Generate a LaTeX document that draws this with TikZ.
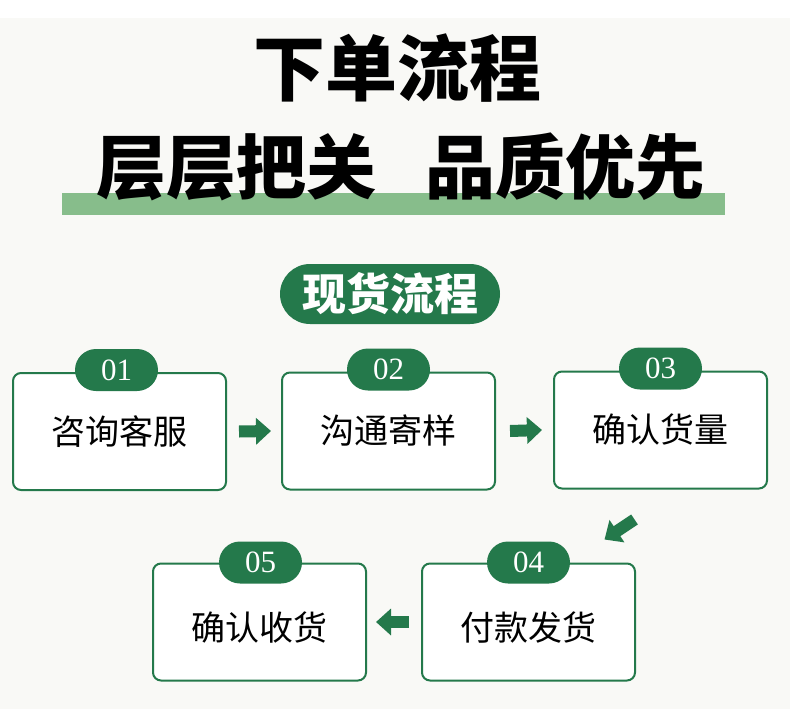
\documentclass[tikz,border=0pt]{standalone}
\usepackage{fontspec}
\setmainfont{Liberation Serif}
\newfontfamily\cjk{Noto Sans CJK SC}
\usetikzlibrary{arrows.meta,calc}

\definecolor{bgpaper}{HTML}{F9F9F6}
\definecolor{darkgreen}{HTML}{24794B}
\definecolor{lightgreen}{HTML}{87BD8B}

\tikzset{
  stepbox/.style={draw=darkgreen, line width=2pt, fill=white, rounded corners=8pt,
                  minimum width=213pt, minimum height=117pt,
                  font=\cjk\fontsize{34}{40}\selectfont},
  numpill/.style={fill=darkgreen, text=white, rounded corners=21pt, inner sep=0pt,
                  minimum width=83pt, minimum height=42pt,
                  font=\fontsize{31}{34}\selectfont},
  flowarrow/.style={darkgreen, line width=12pt, -{Triangle[length=15pt,width=26pt]}},
}
\newcommand\lowtext[1]{\raisebox{-6pt}[\height][\depth]{#1}}

\begin{document}
\begin{tikzpicture}[x=1pt,y=-1pt]
% page
\fill[bgpaper] (0,0) rectangle (790,709);
\fill[white] (0,0) rectangle (790,18);

% heading
\node[font=\cjk\bfseries\fontsize{72}{80}\selectfont] (title) at (397,68) {下单流程};
\node[fill=lightgreen, inner sep=0pt, minimum width=663pt, minimum height=22pt] (bar) at (393.5,204) {};
\node[font=\cjk\bfseries\fontsize{70}{80}\selectfont] (slogan) at (401,167) {层层把关\hspace{0.7em}品质优先};
\node[fill=darkgreen, text=white, rounded corners=30pt, minimum width=220pt, minimum height=60pt,
      font=\cjk\bfseries\fontsize{44}{50}\selectfont] (head) at (390,294) {现货流程};

% steps
\node[stepbox] (s1) at (119.5,431.5) {咨询客服};
\node[stepbox] (s2) at (388.5,431) {沟通寄样};
\node[stepbox] (s3) at (660.5,430) {确认货量};
\node[stepbox] (s4) at (528.5,622) {\lowtext{付款发货}};
\node[stepbox] (s5) at (259.5,622) {\lowtext{确认收货}};

\node[numpill] (n1) at ([xshift=-3pt,yshift=2pt]s1.north) {01};
\node[numpill] (n2) at ([yshift=2pt]s2.north) {02};
\node[numpill] (n3) at ([yshift=2pt]s3.north) {03};
\node[numpill] (n4) at (s4.north) {04};
\node[numpill] (n5) at ([xshift=1pt]s5.north) {05};

% arrows
\draw[flowarrow] ([xshift=12pt]s1.east) -- ([xshift=-10pt]s2.west);
\draw[flowarrow] ([xshift=14pt]s2.east) -- ([xshift=-11pt]s3.west);
\draw[flowarrow] ($(s3.south)+(-26,30)$) -- ($(s3.south)+(-56,50)$);
\draw[flowarrow] ([xshift=-12pt]s4.west) -- ([xshift=9pt]s5.east);
\end{tikzpicture}
\end{document}
